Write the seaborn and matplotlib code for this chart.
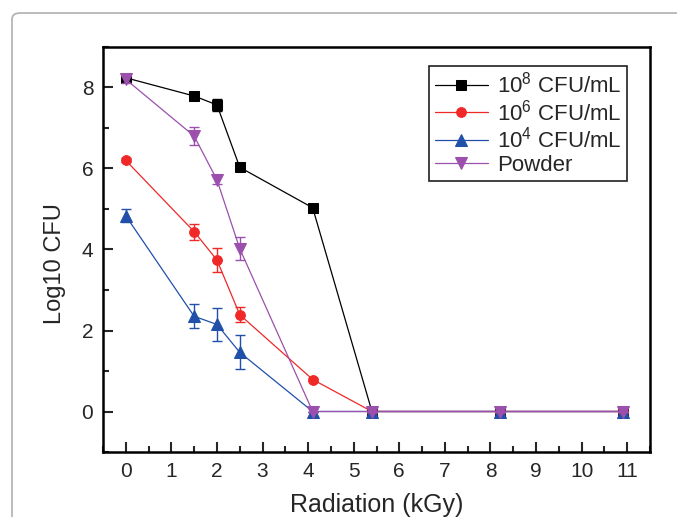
import matplotlib
matplotlib.use('Agg')
import matplotlib.pyplot as plt
import seaborn as sns
import pandas as pd
from matplotlib.patches import FancyBboxPatch
from matplotlib.ticker import MultipleLocator

# radiation dose (kGy) and log10 CFU counts
radiation = [0, 1.5, 2, 2.5, 4.1, 5.4, 8.2, 10.9]
cfu_1e8 = [8.24, 7.79, 7.57, 6.03, 5.03, 0, 0, 0]
err_1e8 = [0.10, 0.05, 0.14, 0.05, 0.03, 0, 0, 0]
cfu_1e6 = [6.20, 4.44, 3.74, 2.39, 0.79, 0, 0, 0]
err_1e6 = [0.05, 0.20, 0.30, 0.19, 0.03, 0, 0, 0]
cfu_1e4 = [4.83, 2.35, 2.15, 1.46, 0, 0, 0, 0]
err_1e4 = [0.16, 0.30, 0.41, 0.42, 0, 0, 0, 0]
powder = [8.20, 6.80, 5.72, 4.02, 0, 0, 0, 0]
err_powder = [0.08, 0.23, 0.10, 0.28, 0, 0, 0, 0]

labels = ['10$^{8}$ CFU/mL', '10$^{6}$ CFU/mL', '10$^{4}$ CFU/mL', 'Powder']
colors = ['#000000', '#f02828', '#2050a8', '#9b50ad']
markers = ['s', 'o', '^', 'v']
msizes = [6.5, 7, 8, 8]

sns.set_style('ticks')
plt.rcParams['font.family'] = ['Liberation Sans', 'DejaVu Sans']
plt.rcParams['mathtext.fontset'] = 'custom'
plt.rcParams['mathtext.rm'] = 'Liberation Sans'
plt.rcParams['mathtext.it'] = 'Liberation Sans'
plt.rcParams['mathtext.default'] = 'rm'

fig = plt.figure(figsize=(6.77, 5.17), dpi=100)
ax = fig.add_axes([103/677, 1 - 452/517, (650 - 103)/677, (452 - 47)/517])

# card-like rounded frame around the figure
frame = FancyBboxPatch((12/677, -0.2), 1.5, 1 - 13/517 + 0.2,
                       boxstyle='round,pad=0,rounding_size=0.012',
                       transform=fig.transFigure, facecolor='none',
                       edgecolor='#b0b0b0', linewidth=1.2, clip_on=False)
fig.patches.append(frame)

series = [cfu_1e8, cfu_1e6, cfu_1e4, powder]
errors = [err_1e8, err_1e6, err_1e4, err_powder]
for vals, errs, lab, c, m, ms in zip(series, errors, labels, colors, markers, msizes):
    df = pd.DataFrame({'Radiation': radiation, 'CFU': vals})
    ax.errorbar(radiation, vals, yerr=errs, fmt='none', ecolor=c,
                elinewidth=1, capsize=3.5, capthick=1)
    sns.lineplot(data=df, x='Radiation', y='CFU', ax=ax, color=c, marker=m,
                 markersize=ms, markeredgecolor=c, linewidth=0.9, label=lab)

ax.set_xlim(-0.5, 11.5)
ax.set_ylim(-1, 9)
ax.xaxis.set_major_locator(MultipleLocator(1))
ax.xaxis.set_minor_locator(MultipleLocator(0.5))
ax.yaxis.set_major_locator(MultipleLocator(2))
ax.yaxis.set_minor_locator(MultipleLocator(1))
ax.tick_params(which='both', direction='in', width=1.5, labelsize=15,
               top=False, right=False)
ax.tick_params(which='major', length=7, pad=7)
ax.tick_params(which='minor', length=4)
for s in ax.spines.values():
    s.set_visible(True)
    s.set_linewidth(1.8)
    s.set_color('black')

ax.set_xlabel('Radiation (kGy)', fontsize=18, labelpad=9)
ax.set_ylabel('Log10 CFU', fontsize=17)
ax.yaxis.set_label_coords(-0.068, 0.465)

leg = ax.legend(loc='upper right', bbox_to_anchor=(0.958, 0.953),
                borderaxespad=0, fontsize=16, fancybox=False,
                framealpha=1, edgecolor='#202020', handlelength=2.4,
                labelspacing=0.08, borderpad=0.25, handletextpad=0.4)
leg.get_frame().set_linewidth(1.2)

fig.savefig('out.png', dpi=100)
